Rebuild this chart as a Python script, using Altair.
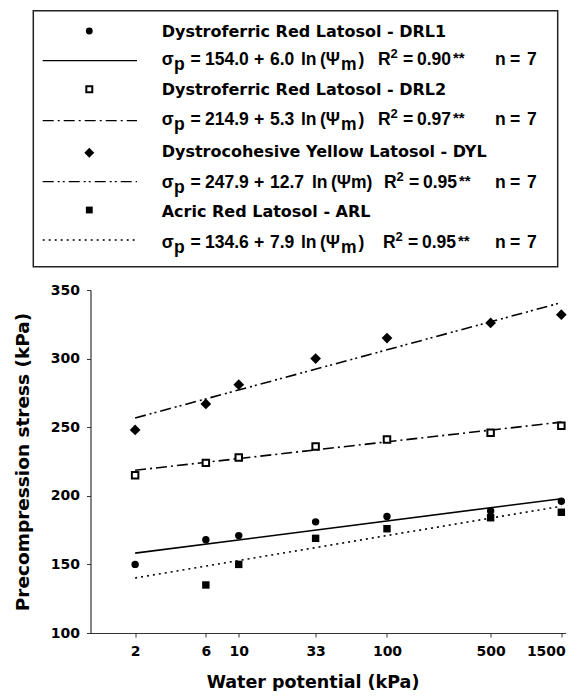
import altair as alt
import pandas as pd

# ---------------- data ----------------
x_kpa = [2, 6, 10, 33, 100, 500, 1500]
drl1 = [150, 168, 171, 181, 185, 189, 196]
drl2 = [215, 224, 228, 236, 241, 246, 251]
dyl = [248, 267, 281, 300, 315, 326, 332]
arl_x = [6, 10, 33, 100, 500, 1500]
arl = [135, 150, 169, 176, 184, 188]

fit_x = [2, 1500]
drl1_fit = [158.2, 197.9]
drl2_fit = [218.6, 253.7]
dyl_fit = [256.7, 340.8]
arl_fit = [140.1, 192.4]

series_names = [
    "Dystroferric Red Latosol - DRL1",
    "Dystroferric Red Latosol - DRL2",
    "Dystrocohesive Yellow Latosol - DYL",
    "Acric Red Latosol - ARL",
]
eq_intercept = ["154.0", "214.9", "247.9", "134.6"]
eq_slope = ["6.0", "5.3", "12.7", "7.9"]
eq_r2 = ["0.90", "0.97", "0.95", "0.95"]
n_obs = ["7", "7", "7", "7"]
x_ticks = [2, 6, 10, 33, 100, 500, 1500]
y_ticks = [100, 150, 200, 250, 300, 350]

# ---------------- styling / layout ----------------
FONT = "DejaVu Sans"
EQF = "Liberation Sans"
OX, OY = 90.5, 290.0          # page position of plot origin
W, H = 475, 343

dashes = [None, [11, 4, 2, 4], [11, 4, 2, 3, 2, 4], [2, 4]]
shapes = [("circle", True, 55), ("square", False, 42), ("diamond", True, 115), ("square", True, 55)]

xs = alt.X("x:Q", scale=alt.Scale(type="log", domain=[1, 1600]),
           axis=alt.Axis(values=x_ticks, labelExpr="datum.value", title="Water potential (kPa)",
                         titlePadding=15, titleFontSize=17.5, titleX=222,
                         labelFlush=10, labelFlushOffset=4))
ys = alt.Y("y:Q", scale=alt.Scale(domain=[100, 350]),
           axis=alt.Axis(values=y_ticks, title="Precompression stress (kPa)",
                         titlePadding=18, titleFontSize=18.5))

layers = []
fits = [drl1_fit, drl2_fit, dyl_fit, arl_fit]
for i, f in enumerate(fits):
    d = pd.DataFrame({"x": fit_x, "y": f})
    kw = dict(color="black", strokeWidth=1.6)
    if dashes[i]:
        kw["strokeDash"] = dashes[i]
    layers.append(alt.Chart(d).mark_line(**kw).encode(x=xs, y=ys))

pts = [(x_kpa, drl1), (x_kpa, drl2), (x_kpa, dyl), (arl_x, arl)]
for i, (px, py) in enumerate(pts):
    d = pd.DataFrame({"x": px, "y": py})
    shp, filled, size = shapes[i]
    if filled:
        m = alt.Chart(d).mark_point(shape=shp, filled=True, size=size, color="black", opacity=1)
    else:
        m = alt.Chart(d).mark_point(shape=shp, filled=False, size=size, color="black",
                                    strokeWidth=2, opacity=1, fill="white", fillOpacity=1)
    layers.append(m.encode(x=xs, y=ys))

# ---------------- legend box ----------------
dummy = pd.DataFrame({"k": [0]})


def txt(s, x, y, size=17.5, font=EQF):
    return alt.Chart(dummy).mark_text(
        text=s, font=font, fontWeight="bold", fontSize=size, align="left",
        baseline="alphabetic", color="black"
    ).encode(x=alt.value(x - OX), y=alt.value(y - OY))


layers.append(alt.Chart(dummy).mark_rect(fillOpacity=0, stroke="#222", strokeWidth=1.5).encode(
    x=alt.value(33.3 - OX), x2=alt.value(557.7 - OX), y=alt.value(10.7 - OY), y2=alt.value(266.7 - OY)))

name_base = [37.3, 95.0, 156.7, 217.0]
eq_base = [65.0, 125.0, 188.0, 248.0]
sym_y = [31.0, 89.3, 152.7, 210.0]
line_y = [60.7, 120.7, 181.7, 240.0]

for i in range(4):
    shp, filled, size = shapes[i]
    if filled:
        sm = alt.Chart(dummy).mark_point(shape=shp, filled=True, size=size * 0.85, color="black", opacity=1)
    else:
        sm = alt.Chart(dummy).mark_point(shape=shp, filled=False, size=size * 0.85, color="black",
                                         strokeWidth=2, opacity=1)
    layers.append(sm.encode(x=alt.value(89.3 - OX), y=alt.value(sym_y[i] - OY)))
    rkw = dict(color="black", strokeWidth=1.3)
    if dashes[i]:
        rkw["strokeDash"] = dashes[i]
    layers.append(alt.Chart(dummy).mark_rule(**rkw).encode(
        x=alt.value(42.7 - OX), x2=alt.value(137 - OX), y=alt.value(line_y[i] - OY)))
    layers.append(txt(series_names[i], 161.7, name_base[i], 16, FONT))

    b = eq_base[i]
    layers.append(txt("σ", 161.7, b))
    layers.append(txt("p", 174, b + 5))
    layers.append(txt("=", 190.5, b))
    layers.append(txt(eq_intercept[i], 205, b))
    layers.append(txt("+", 254, b))
    layers.append(txt(eq_slope[i], 270, b))
    if i == 2:
        lx = 312
        layers.append(txt("ln", lx, b))
        layers.append(txt("(Ψm)", lx + 19, b))
        rx = 384
    else:
        lx = 301
        layers.append(txt("ln", lx, b))
        layers.append(txt("(Ψ", lx + 19, b))
        layers.append(txt("m", 341, b + 5))
        layers.append(txt(")", 358.5, b))
        rx = 378 if i < 2 else 383
    layers.append(txt("R", rx, b))
    layers.append(txt("2", rx + 12.5, b - 7, 13))
    layers.append(txt("=", rx + 25, b))
    layers.append(txt(eq_r2[i], rx + 39, b))
    layers.append(txt("**", rx + 75, b - 2, 15))
    layers.append(txt("n", 495, b))
    layers.append(txt("=", 510, b))
    layers.append(txt(n_obs[i], 527, b))

chart = alt.layer(*layers).properties(
    width=W, height=H,
    autosize=alt.AutoSizeParams(type="none"),
    padding={"left": OX - 8, "top": OY - 8, "right": 5, "bottom": 58},
).configure_view(stroke=None).configure_axis(
    grid=False, domainColor="#333", domainWidth=1.2, tickColor="#333", tickSize=4,
    labelFont=FONT, labelFontWeight="bold", labelFontSize=14, labelColor="black",
    titleFont=FONT, titleFontWeight="bold", titleColor="black", labelPadding=7,
)

chart.save("out.html", embed_options={"renderer": "svg", "actions": False})
